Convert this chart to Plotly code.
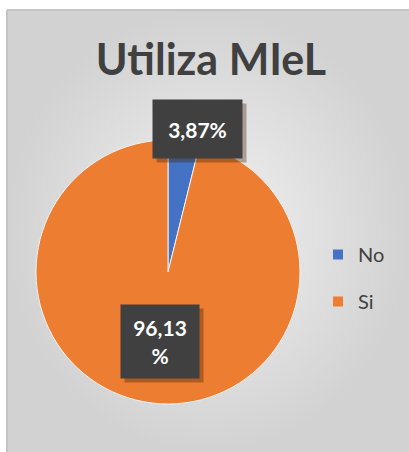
import plotly.graph_objects as go

# datos
etiquetas = ["No", "Si"]
porcentajes = [3.87, 96.13]
colores = ["#4472C4", "#ED7D31"]
titulo = "Utiliza MIeL"

W, H = 409, 452
TXT = "#404040"

fig = go.Figure()

# fondo del área del gráfico (degradado radial gris)
fig.add_trace(go.Scatter(
    x=[7, 409, 409, 7, 7], y=[0, 0, 442, 442, 0],
    mode="lines", fill="toself", line=dict(width=0),
    fillgradient=dict(type="radial", colorscale=[[0, "#f2f2f2"], [1, "#d2d2d2"]]),
    hoverinfo="skip", showlegend=False,
))

fig.add_trace(go.Pie(
    labels=etiquetas,
    values=porcentajes,
    marker=dict(colors=colores, line=dict(color="#f2f2f2", width=1)),
    textinfo="none",
    sort=False,
    direction="clockwise",
    rotation=0,
    domain=dict(x=[36 / W, 300 / W], y=[48 / H, 312 / H]),
    hoverinfo="label+percent",
    showlegend=False,
))

# leyenda: una entrada por categoría, con más separación entre ellas
for lab, col in zip(etiquetas, colores):
    fig.add_trace(go.Scatter(
        x=[None], y=[None], mode="markers", name=lab, legendgroup=lab,
        marker=dict(symbol="square", size=10, color=col),
    ))

# etiquetas de datos con fondo oscuro: (centro x, centro y, ancho, alto) en px
cajas = [(197, 129, 65, 34), (160, 341, 54, 49)]
textos = [f"{v:.2f}".replace(".", ",") + "%" for v in porcentajes]
textos[1] = textos[1].replace("%", "<br>%")
for (cx, cy, w, h), t in zip(cajas, textos):
    comun = dict(xref="paper", yref="paper", xanchor="center", yanchor="middle",
                 showarrow=False, width=w, height=h, borderpad=12)
    # sombra
    fig.add_annotation(
        x=(cx + 4) / W, y=1 - (cy + 4) / H, text=" ",
        bgcolor="rgba(60,30,0,0.35)", **comun,
    )
    fig.add_annotation(
        x=cx / W, y=1 - cy / H, text=f"<b>{t}</b>",
        font=dict(size=21, family="Lato", color="white"),
        bgcolor="#404040", **comun,
    )

fig.update_layout(
    width=W, height=H,
    margin=dict(l=0, r=0, t=0, b=0),
    paper_bgcolor="white",
    plot_bgcolor="rgba(0,0,0,0)",
    xaxis=dict(range=[0, W], visible=False, fixedrange=True),
    yaxis=dict(range=[0, H], visible=False, fixedrange=True),
    title=dict(text=f"<b>{titulo}</b>", x=211 / W, xanchor="center", y=1 - 60 / H, yanchor="middle",
               font=dict(size=43, family="Lato", color=TXT)),
    legend=dict(x=318 / W, y=1 - 235 / H, xanchor="left", yanchor="top",
                font=dict(size=20, family="Lato", color=TXT), bgcolor="rgba(0,0,0,0)",
                tracegroupgap=18, itemwidth=30),
    shapes=[
        dict(type="line", xref="paper", yref="paper", x0=7 / W, x1=7 / W, y0=0, y1=1 - 10 / H,
             line=dict(color="#c4c4c4", width=2)),
        dict(type="line", xref="paper", yref="paper", x0=7 / W, x1=1, y0=1 - 10 / H, y1=1 - 10 / H,
             line=dict(color="#c4c4c4", width=2)),
    ],
)

fig.write_html("out.html", config={"displayModeBar": False},
               post_script="document.body.style.margin='0';document.body.style.overflow='hidden';")
